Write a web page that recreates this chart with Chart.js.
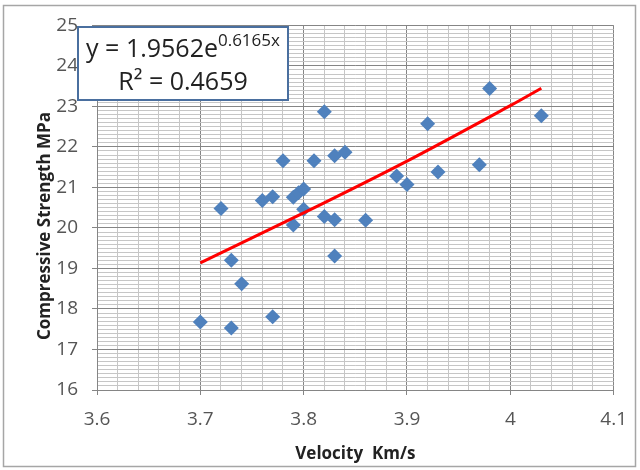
<!DOCTYPE html>
<html>
<head>
<meta charset="utf-8">
<script src="https://cdn.jsdelivr.net/npm/chart.js@4"></script>
<style>
  body { margin: 0; background: #fff; }
  #grafico { display: block; }
</style>
</head>
<body>
<canvas id="grafico" width="640" height="470"></canvas>
<script>
// Velocity (km/s) and compressive strength (MPa)
const velocidade = [3.70, 3.72, 3.73, 3.73, 3.74, 3.76, 3.77, 3.77, 3.78, 3.79, 3.79, 3.795, 3.80, 3.80,
  3.81, 3.82, 3.82, 3.83, 3.83, 3.83, 3.84, 3.86, 3.89, 3.90, 3.92, 3.93, 3.97, 3.98, 4.03];
const resistencia = [17.68, 20.48, 19.20, 17.53, 18.62, 20.68, 20.77, 17.81, 21.66, 20.76, 20.07, 20.87, 20.96, 20.46,
  21.66, 22.87, 20.28, 21.78, 20.20, 19.31, 21.87, 20.19, 21.28, 21.07, 22.57, 21.38, 21.56, 23.44, 22.77];

// Exponential trendline as drawn (y = 1.9562e^0.6165x)
const tendenciaX = [3.70, 3.80, 3.90, 4.00, 4.03];
const tendenciaY = [19.14, 20.37, 21.65, 23.02, 23.45];

// Tick labels
const ticksX = ['3.6', '3.7', '3.8', '3.9', '4', '4.1'];
const ticksY = ['16', '17', '18', '19', '20', '21', '22', '23', '24', '25'];

const equacao = 'y = 1.9562e';
const expoente = '0.6165x';
const r2 = 'R² = 0.4659';
const tituloY = 'Compressive Strength MPa';

const pontos = velocidade.map((v, i) => ({ x: v, y: resistencia[i] }));
const tendencia = tendenciaX.map((v, i) => ({ x: v, y: tendenciaY[i] }));

// major grid every 0.1 on x and every 1 on y, the rest are minor lines
function ehMaiorX(v) { return Math.abs(v * 10 - Math.round(v * 10)) < 1e-6; }
function ehMaiorY(v) { return Math.abs(v - Math.round(v)) < 1e-6; }

const corMaior = '#858585';
const corMenor = '#c6c6c6';

// white background, outer frame, y title and the equation box
const moldura = {
  id: 'moldura',
  beforeDraw(chart) {
    const ctx = chart.ctx;
    ctx.save();
    ctx.fillStyle = '#fff';
    ctx.fillRect(0, 0, chart.width, chart.height);
    ctx.strokeStyle = '#a6a6a6';
    ctx.lineWidth = 1.5;
    ctx.strokeRect(3.5, 5.5, 632, 461);
    ctx.restore();
  },
  afterDraw(chart) {
    const ctx = chart.ctx;
    ctx.save();

    // y axis title, a bit lower than the plot centre like the original
    ctx.save();
    ctx.translate(45, 226);
    ctx.rotate(-Math.PI / 2);
    ctx.fillStyle = '#222';
    ctx.font = 'bold 17px "Open Sans"';
    ctx.textAlign = 'center';
    ctx.textBaseline = 'middle';
    ctx.fillText(tituloY, 0, 0);
    ctx.restore();

    ctx.fillStyle = '#fff';
    ctx.fillRect(78, 27, 210, 73);
    ctx.strokeStyle = '#4a6f9f';
    ctx.lineWidth = 2;
    ctx.strokeRect(78, 27, 210, 73);

    ctx.fillStyle = '#222';
    ctx.textBaseline = 'alphabetic';
    ctx.font = '25px "Open Sans"';
    const w1 = ctx.measureText(equacao).width;
    ctx.font = '17px "Open Sans"';
    const w2 = ctx.measureText(expoente).width;
    let x0 = 183 - (w1 + w2) / 2;
    ctx.font = '25px "Open Sans"';
    ctx.fillText(equacao, x0, 57);
    ctx.font = '17px "Open Sans"';
    ctx.fillText(expoente, x0 + w1, 46);

    ctx.font = '25px "Open Sans"';
    ctx.textAlign = 'center';
    ctx.fillText(r2, 183, 90);
    ctx.restore();
  }
};

const ctx = document.getElementById('grafico').getContext('2d');
new Chart(ctx, {
  type: 'scatter',
  data: {
    datasets: [
      {
        label: 'Tendência',
        type: 'line',
        data: tendencia,
        borderColor: '#ff0000',
        borderWidth: 3,
        pointRadius: 0,
        fill: false,
        tension: 0.3
      },
      {
        label: 'Dados',
        data: pontos,
        pointStyle: 'rectRot',
        pointRadius: 7.5,
        backgroundColor: '#4f81bd',
        borderColor: '#4f81bd',
        borderWidth: 0
      }
    ]
  },
  options: {
    responsive: false,
    animation: false,
    layout: { padding: { left: 0, top: 18, right: 21, bottom: 0 } },
    plugins: {
      legend: { display: false },
      tooltip: { enabled: false }
    },
    scales: {
      x: {
        type: 'linear',
        min: 3.6,
        max: 4.1,
        afterFit(scale) { scale.height = 80; },
        border: { color: corMaior },
        grid: {
          tickLength: 5,
          color: c => ehMaiorX(c.tick.value) ? corMaior : corMenor,
          tickColor: c => ehMaiorX(c.tick.value) ? corMaior : 'rgba(0,0,0,0)'
        },
        ticks: {
          stepSize: 0.02,
          autoSkip: false,
          maxRotation: 0,
          padding: 13,
          color: '#555',
          font: { family: 'Open Sans', size: 19 },
          callback: v => ehMaiorX(v) ? ticksX[Math.round((v - 3.6) * 10)] : ''
        },
        title: {
          display: true,
          text: 'Velocity  Km/s',
          color: '#222',
          font: { family: 'Open Sans', size: 17, weight: 'bold' },
          padding: { top: 0, bottom: 6 }
        }
      },
      y: {
        type: 'linear',
        min: 16,
        max: 25,
        afterFit(scale) { scale.width = 97; },
        border: { color: corMaior },
        grid: {
          tickLength: 5,
          color: c => ehMaiorY(c.tick.value) ? corMaior : corMenor,
          tickColor: c => ehMaiorY(c.tick.value) ? corMaior : 'rgba(0,0,0,0)'
        },
        ticks: {
          stepSize: 0.1,
          autoSkip: false,
          padding: 14,
          color: '#555',
          font: { family: 'Open Sans', size: 19 },
          callback: v => ehMaiorY(v) ? ticksY[Math.round(v) - 16] : ''
        }
      }
    }
  },
  plugins: [moldura]
});
</script>
</body>
</html>
